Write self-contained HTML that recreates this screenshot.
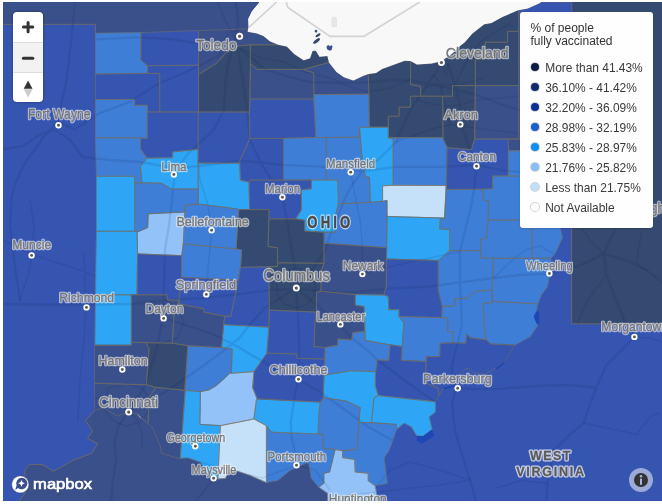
<!DOCTYPE html>
<html><head><meta charset="utf-8"><title>Ohio vaccination map</title>
<style>
html,body{margin:0;padding:0;background:#fff;}
body{width:662px;height:504px;overflow:hidden;position:relative;font-family:"Liberation Sans",sans-serif;}
#map{position:absolute;left:3px;top:2px;width:659px;height:499px;overflow:hidden;background:#3655b0;}
.ctrl{position:absolute;left:10px;top:10px;width:30px;height:90px;background:#fff;border-radius:4px;box-shadow:0 0 0 1.5px rgba(0,0,0,0.12);overflow:hidden;}
.ctrl div{position:absolute;left:0;width:30px;height:30px;}
.ctrl .b1{top:0;}
.ctrl .b2{top:30px;background:#f2f2f2;border-top:1px solid #ddd;box-sizing:border-box;}
.ctrl .b3{top:60px;border-top:1px solid #ddd;box-sizing:border-box;}
.legend{will-change:transform;opacity:0.999;position:absolute;left:517px;top:9.8px;width:132.8px;height:216.2px;background:#fff;border-radius:3px;box-shadow:0 1px 2px rgba(0,0,0,0.15);color:#333;font-size:12px;}
.legend .lt{position:absolute;left:10.5px;top:9.5px;line-height:13px;font-size:12px;color:#333;white-space:nowrap;}
.legend .li{position:absolute;left:0;height:20px;width:133px;}
.legend .dot{position:absolute;left:10.5px;top:5.6px;width:8.6px;height:8.6px;border-radius:50%;box-shadow:0 0 0 1px rgba(170,170,170,0.5);}
.legend .tx{position:absolute;left:25.2px;top:4px;line-height:14px;font-size:11.95px;white-space:nowrap;color:#3a3a3a;}
.info{position:absolute;left:626px;top:465.5px;width:24px;height:24px;border-radius:50%;background:rgba(255,255,255,0.5);}
.logo{position:absolute;left:8px;top:472px;}
</style></head><body>
<div id="map">
<svg width="659" height="499" viewBox="3 2 659 499" style="position:absolute;left:0;top:0">
<rect x="3" y="2" width="659" height="499" fill="#3655b0"/>
<polygon points="3.0,2.0 259.7,2.0 251.9,11.6 248.3,19.0 248.7,27.5 247.6,31.7 247.6,29.0 198.6,30.5 141.0,32.6 95.5,33.3 95.5,24.3 3.0,24.3" fill="#3a508a"/>
<polygon points="259.7,2.0 251.9,11.6 248.3,19.0 248.7,27.5 247.6,31.7 257.1,33.4 263.5,36.0 269.8,41.2 278.3,44.8 286.8,46.5 294.2,53.9 303.7,60.3 310.0,58.2 312.6,50.8 315.9,50.8 319.5,56.7 327.4,56.0 329.0,62.4 336.5,71.9 343.9,77.2 353.4,80.4 362.9,76.1 368.2,74.0 376.0,73.0 382.0,69.0 393.0,65.0 404.7,60.7 410.6,61.0 416.9,64.5 431.7,63.4 441.2,61.3 451.8,53.9 460.0,45.9 464.8,42.3 472.1,33.8 484.2,24.2 491.4,23.0 502.3,16.9 518.0,10.3 527.7,8.5 540.0,3.0 541.0,2.0" fill="#f8f8f8"/>
<polygon points="571.6,2.0 662.0,2.0 662.0,323.8 571.6,323.8" fill="#354a70"/>
<polygon points="19.1,501.0 24.9,493.2 24.9,470.0 29.9,464.2 43.2,464.7 53.2,471.3 66.5,464.2 73.1,460.0 80.0,457.7 92.0,453.2 97.6,443.7 87.5,438.2 92.5,430.7 85.5,420.6 94.5,410.6 102.6,407.6 117.6,416.1 128.9,411.9 137.7,414.4 147.7,423.1 152.7,428.2 160.2,445.7 161.5,453.2 179.0,458.7 180.3,458.2 187.8,457.7 200.4,462.0 205.4,470.8 210.4,475.3 217.9,478.8 225.4,478.3 227.9,472.8 235.0,470.3 250.1,475.3 266.4,482.4 277.7,480.4 290.2,470.3 306.5,462.8 308.8,463.2 311.3,478.3 318.8,487.1 327.6,493.3 327.6,501.0" fill="#3a508a"/>
<g fill="none" stroke="#736d60" stroke-width="1" stroke-opacity="0.85" stroke-linejoin="round">
<polyline points="3.0,24.3 95.5,24.3 95.5,33.3"/>
<polyline points="19.1,501.0 24.9,493.2 24.9,470.0 29.9,464.2 43.2,464.7 53.2,471.3 66.5,464.2 73.1,460.0 80.0,457.7 92.0,453.2 97.6,443.7 87.5,438.2 92.5,430.7 85.5,420.6 94.5,410.6"/>
<polyline points="571.6,2.0 571.6,12.0"/>
<polyline points="571.6,227.0 571.6,323.8 662.0,323.8"/>
</g>
<polygon points="95.5,33.3 141.0,32.6 141.0,60.0 147.5,65.7 147.5,73.3 95.5,74.0" fill="#3f7ed6" stroke="#3f7ed6" stroke-width="0.5"/>
<polygon points="141.0,32.6 198.6,30.5 198.6,65.2 147.5,65.7 141.0,60.0" fill="#3655b0" stroke="#3655b0" stroke-width="0.5"/>
<polygon points="198.6,30.5 247.6,29.0 247.6,31.7 257.1,33.4 263.5,36.0 269.8,41.2 278.3,44.8 250.4,44.8 238.7,45.9 226.0,52.7 217.4,62.7 198.6,74.5" fill="#3a508a" stroke="#3a508a" stroke-width="0.5"/>
<polygon points="250.4,44.8 278.3,44.8 286.8,46.5 294.2,53.9 303.7,60.3 310.0,58.2 312.6,50.8 315.9,50.8 319.5,56.7 327.4,56.0 329.0,62.4 303.7,69.4 257.1,69.4 250.4,63.4" fill="#354a70" stroke="#354a70" stroke-width="0.5"/>
<polygon points="198.6,74.5 217.4,62.7 226.0,52.7 238.7,45.9 250.4,44.8 250.4,63.4 249.5,112.0 198.6,112.0" fill="#354a70" stroke="#354a70" stroke-width="0.5"/>
<polygon points="147.5,65.7 198.6,65.2 198.6,112.0 159.7,112.0 159.7,73.3 147.5,73.3" fill="#3655b0" stroke="#3655b0" stroke-width="0.5"/>
<polygon points="95.5,74.0 147.5,73.3 159.7,73.3 159.7,112.0 147.4,112.0 147.4,105.3 134.6,105.3 134.6,99.5 95.5,99.5" fill="#3655b0" stroke="#3655b0" stroke-width="0.5"/>
<polygon points="95.5,99.5 134.6,99.5 134.6,105.3 147.4,105.3 147.4,112.0 147.4,138.4 140.5,138.4 140.5,137.8 95.5,137.8" fill="#3f7ed6" stroke="#3f7ed6" stroke-width="0.5"/>
<polygon points="147.4,112.0 198.2,112.0 198.2,149.4 172.6,152.0 172.6,157.8 147.0,158.2 140.5,149.0 140.5,138.4 147.4,138.4" fill="#3655b0" stroke="#3655b0" stroke-width="0.5"/>
<polygon points="95.5,137.8 140.5,137.8 140.5,149.0 147.0,158.2 140.5,166.5 142.0,182.8 134.7,183.2 134.7,176.2 96.5,176.2" fill="#3f7ed6" stroke="#3f7ed6" stroke-width="0.5"/>
<polygon points="147.0,158.2 172.6,157.8 172.6,152.0 198.2,149.4 198.2,189.0 171.4,189.0 161.3,183.2 142.0,182.8 140.5,166.5" fill="#2ea5f5" stroke="#2ea5f5" stroke-width="0.5"/>
<polygon points="198.2,112.0 249.5,112.0 249.9,138.4 239.6,161.4 239.6,163.2 198.2,163.2" fill="#3655b0" stroke="#3655b0" stroke-width="0.5"/>
<polygon points="250.4,63.4 257.1,69.4 303.7,69.4 313.8,73.0 313.8,99.0 250.0,99.0" fill="#3a508a" stroke="#3a508a" stroke-width="0.5"/>
<polygon points="303.7,69.4 329.0,62.4 336.5,71.9 343.9,77.2 353.4,80.4 362.9,76.1 368.2,74.0 369.0,94.3 313.8,94.5 313.8,73.0" fill="#3a508a" stroke="#3a508a" stroke-width="0.5"/>
<polygon points="250.0,99.0 313.8,99.0 315.9,137.5 283.5,138.4 249.9,138.4 249.5,112.0" fill="#3655b0" stroke="#3655b0" stroke-width="0.5"/>
<polygon points="313.8,94.5 369.0,94.3 369.5,127.1 359.5,127.4 359.5,137.2 315.9,137.5" fill="#3f7ed6" stroke="#3f7ed6" stroke-width="0.5"/>
<polygon points="369.0,94.3 368.2,74.0 376.0,73.0 382.0,69.0 393.0,65.0 404.7,60.7 410.6,61.0 410.6,84.6 420.7,86.3 420.7,96.2 410.4,96.2 410.4,107.2 399.1,107.2 399.1,116.2 388.3,116.2 388.3,127.3 369.5,127.1" fill="#354a70" stroke="#354a70" stroke-width="0.5"/>
<polygon points="410.6,61.0 416.9,64.5 431.7,63.4 441.2,61.3 451.8,53.9 460.0,45.9 464.8,42.3 472.1,33.8 484.2,24.2 491.4,23.0 502.3,16.9 518.0,10.3 518.8,10.2 518.8,31.3 507.5,31.3 507.5,42.2 485.2,42.2 485.2,59.0 475.3,59.0 475.3,85.6 452.5,85.6 452.5,96.2 420.7,96.2 420.7,86.3 410.6,84.6" fill="#354a70" stroke="#354a70" stroke-width="0.5"/>
<polygon points="485.2,42.2 507.5,42.2 507.5,31.3 518.8,31.3 518.8,85.6 475.3,85.6 475.3,59.0 485.2,59.0" fill="#354a70" stroke="#354a70" stroke-width="0.5"/>
<polygon points="518.8,10.2 527.7,8.5 540.0,3.0 541.0,2.0 571.8,2.0 571.8,62.2 518.8,62.2" fill="#3655b0" stroke="#3655b0" stroke-width="0.5"/>
<polygon points="518.8,62.2 571.8,62.2 571.8,139.4 518.8,139.4" fill="#3655b0" stroke="#3655b0" stroke-width="0.5"/>
<polygon points="388.3,127.3 388.3,116.2 399.1,116.2 399.1,107.2 410.4,107.2 410.4,96.2 442.7,96.2 443.0,137.7 388.3,137.7" fill="#354a70" stroke="#354a70" stroke-width="0.5"/>
<polygon points="442.7,96.2 452.5,96.2 452.5,85.6 475.3,85.6 474.7,139.0 471.4,149.7 447.6,147.7 443.0,139.0" fill="#354a70" stroke="#354a70" stroke-width="0.5"/>
<polygon points="475.3,85.6 518.8,85.6 518.8,138.5 474.7,139.0" fill="#3a508a" stroke="#3a508a" stroke-width="0.5"/>
<polygon points="508.3,139.4 571.5,139.4 571.5,150.7 508.3,150.7" fill="#3a508a" stroke="#3a508a" stroke-width="0.5"/>
<polygon points="359.5,127.4 388.3,127.3 388.3,137.7 393.3,139.0 393.3,185.3 382.6,185.8 382.6,201.3 370.3,202.3 369.5,177.3 365.3,176.5 361.5,152.7" fill="#2ea5f5" stroke="#2ea5f5" stroke-width="0.5"/>
<polygon points="326.4,137.5 359.5,137.2 359.5,127.4 361.5,152.7 365.3,176.5 369.5,177.3 370.3,202.3 338.3,203.9 337.8,180.0 326.4,180.0" fill="#3f7ed6" stroke="#3f7ed6" stroke-width="0.5"/>
<polygon points="283.5,138.4 315.9,137.5 326.4,137.5 326.4,180.0 311.5,180.0 283.5,180.2" fill="#3f7ed6" stroke="#3f7ed6" stroke-width="0.5"/>
<polygon points="249.9,138.4 283.5,138.4 283.5,180.2 249.6,180.0 249.1,182.2 240.3,180.2 239.6,161.4" fill="#3655b0" stroke="#3655b0" stroke-width="0.5"/>
<polygon points="198.2,163.2 239.6,163.2 240.3,180.2 249.1,182.2 249.6,209.6 238.8,209.6 237.8,209.0 198.2,204.0" fill="#2ea5f5" stroke="#2ea5f5" stroke-width="0.5"/>
<polygon points="249.6,180.0 283.5,180.2 311.5,180.0 311.5,188.8 301.5,190.0 301.5,210.0 295.7,218.9 268.9,218.9 268.9,209.6 249.6,209.6 249.1,182.2" fill="#3655b0" stroke="#3655b0" stroke-width="0.5"/>
<polygon points="311.5,180.0 337.8,180.0 338.3,203.9 335.3,216.4 335.3,232.2 324.0,232.2 304.7,231.0 304.7,220.2 295.7,218.9 301.5,210.0 301.5,190.0 311.5,188.8" fill="#2ea5f5" stroke="#2ea5f5" stroke-width="0.5"/>
<polygon points="388.3,137.7 443.0,137.7 443.0,139.0 447.0,147.7 446.3,185.5 393.3,185.3 393.3,139.0" fill="#3f7ed6" stroke="#3f7ed6" stroke-width="0.5"/>
<polygon points="447.0,147.7 471.4,149.7 474.7,139.0 508.3,139.4 508.3,176.0 492.7,176.0 492.7,188.8 446.3,189.6" fill="#3655b0" stroke="#3655b0" stroke-width="0.5"/>
<polygon points="508.3,150.7 571.5,150.7 571.5,195.0 531.7,195.0 531.7,176.0 508.3,176.0" fill="#3f7ed6" stroke="#3f7ed6" stroke-width="0.5"/>
<polygon points="492.7,176.0 508.3,176.0 531.7,176.0 531.7,220.2 488.3,220.2 488.3,200.6 483.6,200.1 482.8,189.6 492.7,188.8" fill="#3f7ed6" stroke="#3f7ed6" stroke-width="0.5"/>
<polygon points="382.6,185.8 393.3,185.3 446.3,185.5 444.5,218.1 387.0,216.4 387.0,200.5 382.6,201.3" fill="#c5e1fa" stroke="#c5e1fa" stroke-width="0.5"/>
<polygon points="446.3,189.6 482.8,189.6 483.6,200.1 488.3,200.6 488.3,220.2 486.6,238.2 480.8,239.0 480.8,250.7 449.7,250.7 449.7,229.7 439.7,228.9 440.2,218.9 444.5,218.1 446.3,185.5" fill="#3f7ed6" stroke="#3f7ed6" stroke-width="0.5"/>
<polygon points="488.3,220.2 531.7,220.2 532.4,258.2 493.4,258.3 480.8,257.8 480.8,239.0 486.6,238.2" fill="#3f7ed6" stroke="#3f7ed6" stroke-width="0.5"/>
<polygon points="531.7,195.0 571.5,195.0 560.0,227.6 562.4,237.6 554.9,253.9 551.0,258.2 532.4,258.2 531.7,220.2" fill="#3f7ed6" stroke="#3f7ed6" stroke-width="0.5"/>
<polygon points="493.4,258.3 532.4,258.2 551.0,258.2 549.9,272.7 547.4,286.5 541.1,295.3 538.0,303.8 492.9,301.4 492.1,290.1" fill="#3f7ed6" stroke="#3f7ed6" stroke-width="0.5"/>
<polygon points="492.9,301.4 538.0,303.8 537.4,305.3 535.4,315.0 537.9,325.1 530.4,336.4 514.8,345.1 490.3,343.9 486.5,339.8 484.1,325.2 483.4,303.2 492.1,302.7" fill="#3f7ed6" stroke="#3f7ed6" stroke-width="0.5"/>
<polygon points="442.2,306.4 454.8,305.7 454.8,298.9 467.8,298.1 475.3,291.4 492.1,290.1 492.1,302.7 483.4,303.2 484.1,325.2 486.6,339.8 470.3,337.8 466.6,334.0 465.8,343.3 453.3,342.8 453.3,331.5 447.8,331.5 447.8,318.2 441.5,317.7" fill="#3f7ed6" stroke="#3f7ed6" stroke-width="0.5"/>
<polygon points="438.2,260.5 449.7,250.7 480.8,250.7 480.8,257.8 493.4,258.3 492.1,290.1 475.3,291.4 467.8,298.1 454.8,298.9 454.8,305.7 442.2,306.4 438.2,290.1" fill="#3f7ed6" stroke="#3f7ed6" stroke-width="0.5"/>
<polygon points="387.0,216.4 444.5,218.1 440.2,218.9 439.7,228.9 449.7,229.7 449.7,250.7 438.2,260.5 386.3,259.0 386.7,247.7" fill="#2ea5f5" stroke="#2ea5f5" stroke-width="0.5"/>
<polygon points="338.3,203.9 370.3,202.3 382.6,201.3 387.0,200.5 387.0,216.4 386.7,247.7 324.0,243.2 324.0,232.2 335.3,232.2 335.3,216.4" fill="#3f7ed6" stroke="#3f7ed6" stroke-width="0.5"/>
<polygon points="324.0,243.2 386.7,247.7 386.3,259.0 386.3,286.4 383.8,295.1 355.4,294.6 320.8,291.3 321.6,270.0 324.0,263.3" fill="#3a508a" stroke="#3a508a" stroke-width="0.5"/>
<polygon points="386.3,259.0 438.2,260.5 438.2,290.1 442.2,306.4 441.5,317.7 398.9,316.5 398.9,309.7 388.8,309.7 388.1,296.4 383.8,295.1 386.3,286.4" fill="#3655b0" stroke="#3655b0" stroke-width="0.5"/>
<polygon points="268.9,218.9 295.7,218.9 304.7,220.2 304.7,231.0 324.0,232.2 324.0,243.2 324.0,263.3 277.6,262.8 277.6,247.7 268.1,246.5" fill="#354a70" stroke="#354a70" stroke-width="0.5"/>
<polygon points="238.8,209.6 268.9,209.6 268.9,218.9 268.1,246.5 277.6,247.7 277.6,266.5 240.5,267.3 241.7,250.2 236.0,248.9" fill="#354a70" stroke="#354a70" stroke-width="0.5"/>
<polygon points="185.2,205.3 198.2,204.0 237.8,209.0 238.8,209.6 236.0,248.9 183.3,243.9 184.8,212.0" fill="#3f7ed6" stroke="#3f7ed6" stroke-width="0.5"/>
<polygon points="148.2,213.8 184.8,212.0 183.3,243.9 181.8,255.7 137.6,253.9 137.1,232.1 147.7,227.6" fill="#93c2f9" stroke="#93c2f9" stroke-width="0.5"/>
<polygon points="134.7,183.2 142.0,182.8 161.3,183.2 171.4,189.0 198.2,189.0 198.2,204.0 185.2,205.3 184.8,212.0 148.2,213.8 147.7,227.6 137.1,232.1 134.7,231.3" fill="#3f7ed6" stroke="#3f7ed6" stroke-width="0.5"/>
<polygon points="96.5,176.2 134.7,176.2 134.7,231.3 96.5,231.3" fill="#2ea5f5" stroke="#2ea5f5" stroke-width="0.5"/>
<polygon points="96.5,231.3 134.7,231.3 137.1,232.1 137.6,253.9 137.1,294.8 131.4,294.8 95.5,294.8" fill="#2ea5f5" stroke="#2ea5f5" stroke-width="0.5"/>
<polygon points="95.5,294.8 131.4,294.8 131.4,345.2 95.0,345.2" fill="#2ea5f5" stroke="#2ea5f5" stroke-width="0.5"/>
<polygon points="137.6,253.9 181.8,255.7 181.5,277.2 179.0,300.3 167.2,299.8 167.2,294.8 137.1,294.8" fill="#3655b0" stroke="#3655b0" stroke-width="0.5"/>
<polygon points="183.3,243.9 236.0,248.9 241.7,250.2 240.5,266.5 238.4,280.2 181.5,277.2 181.8,255.7" fill="#3f7ed6" stroke="#3f7ed6" stroke-width="0.5"/>
<polygon points="181.5,277.2 238.4,280.2 230.8,316.4 224.7,316.1 204.4,312.2 203.9,308.8 179.0,303.8 179.0,300.3" fill="#3655b0" stroke="#3655b0" stroke-width="0.5"/>
<polygon points="240.5,267.3 268.9,266.8 269.4,310.1 268.8,327.2 223.6,324.7 224.7,316.1 230.8,316.4 238.4,280.2" fill="#3655b0" stroke="#3655b0" stroke-width="0.5"/>
<polygon points="268.9,266.8 277.6,266.5 277.6,262.8 324.0,263.3 321.6,270.0 320.8,291.3 316.5,292.1 316.5,312.1 269.4,310.1" fill="#354a70" stroke="#354a70" stroke-width="0.5"/>
<polygon points="269.4,310.1 316.5,312.1 314.8,323.9 314.0,346.5 325.3,347.7 324.8,359.0 297.2,358.3 296.5,354.0 266.7,353.2 268.8,327.2" fill="#3655b0" stroke="#3655b0" stroke-width="0.5"/>
<polygon points="316.5,292.1 320.8,291.3 355.4,294.6 355.4,305.1 364.2,306.4 365.0,331.4 352.9,332.7 351.7,340.2 337.9,339.0 337.9,345.2 325.3,347.7 314.0,346.5 314.8,323.9 316.5,312.1" fill="#3a508a" stroke="#3a508a" stroke-width="0.5"/>
<polygon points="355.4,294.6 383.8,295.1 388.1,296.4 388.8,309.7 398.9,309.7 398.9,316.5 403.9,322.7 402.1,346.5 390.1,344.8 365.0,340.3 365.0,331.4 364.2,306.4 355.4,305.1" fill="#2ea5f5" stroke="#2ea5f5" stroke-width="0.5"/>
<polygon points="398.9,316.5 441.5,317.7 447.8,318.2 447.8,331.5 453.3,331.5 453.3,342.8 440.2,343.3 439.7,356.6 426.4,356.6 425.7,361.6 401.4,360.3 402.1,346.5 403.9,322.7" fill="#3f7ed6" stroke="#3f7ed6" stroke-width="0.5"/>
<polygon points="440.2,343.3 453.3,342.8 465.8,343.3 466.6,334.0 470.3,337.8 486.6,339.8 490.3,343.9 514.8,345.1 504.6,361.3 495.5,368.1 485.0,374.2 472.9,372.7 468.3,368.1 465.3,368.9 458.5,376.4 454.0,384.7 443.4,387.8 439.6,395.3 438.9,395.3 438.1,387.8 425.1,382.7 426.4,356.6 439.7,356.6" fill="#3655b0" stroke="#3655b0" stroke-width="0.5"/>
<polygon points="390.1,344.8 402.1,346.5 401.4,360.3 425.7,361.6 426.4,356.6 425.1,382.7 438.1,387.8 438.9,395.3 435.4,401.8 378.2,395.6 375.2,385.5 375.5,372.5 377.0,359.8 388.8,360.3" fill="#3655b0" stroke="#3655b0" stroke-width="0.5"/>
<polygon points="365.0,331.4 365.0,340.3 390.1,344.8 388.8,360.3 377.0,359.8 375.5,372.5 374.2,371.6 350.4,370.8 324.0,375.3 324.8,359.0 325.3,347.7 337.9,345.2 337.9,339.0 351.7,340.2 352.9,332.7" fill="#3f7ed6" stroke="#3f7ed6" stroke-width="0.5"/>
<polygon points="324.0,375.3 350.4,370.8 374.2,371.6 375.5,372.5 375.2,385.5 378.2,395.6 374.0,398.1 371.5,422.6 358.9,422.6 360.2,407.6 346.4,401.1 323.3,397.6 323.3,390.1" fill="#2ea5f5" stroke="#2ea5f5" stroke-width="0.5"/>
<polygon points="374.0,398.1 378.2,395.6 435.4,401.8 435.4,411.9 429.1,416.9 432.1,429.4 422.9,436.2 416.6,435.7 411.6,426.9 404.1,423.1 396.5,429.4 396.5,424.4 371.5,422.6" fill="#2ea5f5" stroke="#2ea5f5" stroke-width="0.5"/>
<polygon points="358.9,422.6 371.5,422.6 396.5,424.4 396.5,429.4 389.0,450.7 384.0,457.7 387.3,483.3 375.2,485.8 368.2,480.8 368.2,473.3 355.2,472.0 354.7,459.5 342.6,457.7 342.6,450.7 357.2,449.5" fill="#3f7ed6" stroke="#3f7ed6" stroke-width="0.5"/>
<polygon points="320.3,402.1 323.3,397.6 346.4,401.1 360.2,407.6 358.9,422.6 357.2,449.5 342.6,450.7 335.1,449.5 323.1,448.2 323.8,434.4 318.0,433.7 319.0,412.7" fill="#3f7ed6" stroke="#3f7ed6" stroke-width="0.5"/>
<polygon points="335.1,449.5 342.6,450.7 342.6,457.7 354.7,459.5 355.2,472.0 368.2,473.3 368.2,480.8 375.2,485.8 377.7,501.0 327.6,501.0 327.6,493.3 318.8,487.1 323.8,483.3 323.8,473.3 329.6,472.0" fill="#93c2f9" stroke="#93c2f9" stroke-width="0.5"/>
<polygon points="266.4,425.7 271.4,432.2 317.8,434.0 318.0,433.7 323.8,434.4 323.1,448.2 335.1,449.5 329.6,472.0 323.8,473.3 323.8,483.3 318.8,487.1 311.3,478.3 308.8,463.2 306.5,462.8 290.2,470.3 277.7,480.4 266.4,482.4" fill="#3f7ed6" stroke="#3f7ed6" stroke-width="0.5"/>
<polygon points="257.1,398.9 320.3,402.1 319.0,412.7 318.0,433.7 317.8,434.0 271.4,432.2 266.4,425.7 253.9,418.9 256.4,400.1" fill="#2ea5f5" stroke="#2ea5f5" stroke-width="0.5"/>
<polygon points="266.7,353.2 296.5,354.0 297.2,358.3 324.8,359.0 324.0,375.3 323.3,390.1 323.3,397.6 320.3,402.1 257.1,398.9 252.6,387.6 253.9,371.6" fill="#3655b0" stroke="#3655b0" stroke-width="0.5"/>
<polygon points="223.6,324.7 268.8,327.2 266.7,353.2 253.9,371.6 231.3,373.3 232.2,349.0 221.5,347.6" fill="#2ea5f5" stroke="#2ea5f5" stroke-width="0.5"/>
<polygon points="231.3,373.3 253.9,371.6 252.6,387.6 257.1,398.9 256.4,400.1 253.9,418.9 246.0,420.6 220.4,425.6 199.9,424.4 200.4,391.6 209.1,389.8 216.7,385.3 230.5,372.7" fill="#93c2f9" stroke="#93c2f9" stroke-width="0.5"/>
<polygon points="187.8,345.7 221.5,347.6 232.2,349.0 231.3,373.3 230.5,372.7 216.7,385.3 209.1,389.8 200.4,391.6 184.8,390.3" fill="#3f7ed6" stroke="#3f7ed6" stroke-width="0.5"/>
<polygon points="179.0,300.3 179.0,303.8 203.9,308.8 204.4,312.2 224.7,316.1 223.6,324.7 221.5,347.6 187.8,345.7 172.3,343.2 174.0,315.0" fill="#3a508a" stroke="#3a508a" stroke-width="0.5"/>
<polygon points="131.4,294.8 167.2,294.8 167.2,299.8 179.0,300.3 174.0,315.0 172.3,343.2 146.4,342.7 131.4,342.2" fill="#3a508a" stroke="#3a508a" stroke-width="0.5"/>
<polygon points="94.5,345.2 131.4,345.2 131.4,342.2 146.4,342.7 149.0,348.9 146.4,384.8 94.5,383.3" fill="#3a508a" stroke="#3a508a" stroke-width="0.5"/>
<polygon points="146.4,342.7 172.3,343.2 187.8,345.7 184.8,390.3 155.2,387.3 146.4,384.8 149.0,348.9" fill="#354a70" stroke="#354a70" stroke-width="0.5"/>
<polygon points="94.5,383.3 146.4,384.8 155.2,387.3 155.2,389.0 149.0,396.8 148.2,421.9 147.7,423.1 137.7,414.4 128.9,411.9 117.6,416.1 102.6,407.6 94.5,410.6" fill="#3a508a" stroke="#3a508a" stroke-width="0.5"/>
<polygon points="155.2,387.3 184.8,390.3 185.3,390.5 180.3,458.2 179.0,458.7 161.5,453.2 160.2,445.7 152.7,428.2 147.7,423.1 148.2,421.9 149.0,396.8 155.2,389.0" fill="#3a508a" stroke="#3a508a" stroke-width="0.5"/>
<polygon points="185.3,390.5 200.4,391.6 199.9,424.4 220.4,425.6 217.9,478.3 210.4,475.3 205.4,470.8 200.4,462.0 187.8,457.7 180.3,458.2" fill="#2ea5f5" stroke="#2ea5f5" stroke-width="0.5"/>
<polygon points="220.4,425.6 246.0,420.6 253.9,418.9 266.4,425.7 266.4,482.4 250.1,475.3 235.0,470.3 227.9,472.8 225.4,478.3 217.9,478.8" fill="#c5e1fa" stroke="#c5e1fa" stroke-width="0.5"/>
<g fill="none" stroke="#0b1b4e" stroke-linejoin="round" stroke-linecap="round">
<path d="M72.7 25.5 L70.0 50.0 L66.8 78.6 L61.0 105.0 L58.9 117.8 L52.0 128.0 L43.2 137.5 L33.0 152.0 L23.6 165.0 L16.0 182.0 L11.8 196.0 L10.0 225.0 L14.0 260.0 L20.0 300.0 M58.9 122.0 L74.6 129.6 L98.2 113.9 L129.6 102.0 L157.0 84.4 L184.6 72.7 L205.0 63.0 L220.0 55.0 L235.7 39.3 M3.9 149.0 L23.0 146.0 L41.2 133.5 L55.0 130.0 L70.0 140.0 L82.5 157.0 L110.0 160.0 L140.0 162.0 L174.0 168.0 L200.0 166.0 L240.0 160.6 L282.3 164.8 L324.6 166.9 L362.7 171.1 L396.5 166.9 L443.0 166.9 L476.9 164.8 L500.0 170.0 L519.0 172.0 M236.0 3.0 L238.0 20.0 L235.7 39.3 L229.0 60.0 L225.8 78.6 L223.9 110.0 L214.0 129.6 L200.0 143.0 L188.5 153.0 L174.8 172.8 L172.0 200.0 L169.0 225.0 L165.0 249.0 L164.0 285.0 L163.0 317.6 L157.0 347.0 L150.0 370.0 L145.0 386.0 L132.0 405.0 L128.9 411.9 L119.0 425.0 L114.5 440.0 L116.0 460.0 L113.0 480.0 L111.0 501.0 M96.2 39.3 L137.5 37.3 L170.0 39.0 L196.4 43.2 L225.0 50.0 L240.0 48.5 L265.4 69.6 L290.0 77.0 L311.9 82.3 L340.0 83.0 L366.9 82.3 L390.0 80.0 L409.2 80.2 L443.0 86.5 L476.9 95.0 L500.0 104.0 L519.0 110.0 M442.2 62.0 L434.0 75.0 L426.1 86.5 L417.0 100.0 L409.2 111.9 L402.0 128.0 L396.5 141.5 L379.6 158.4 L362.7 171.1 L352.0 185.0 L345.7 196.5 L337.3 217.7 L330.0 236.0 L324.6 251.5 L312.0 270.0 L296.0 288.0 L280.0 298.0 L265.4 307.7 L252.0 322.0 L240.0 337.3 L222.0 352.0 L200.0 368.0 L180.0 382.0 L160.0 395.0 L140.0 406.0 L128.9 411.9 M3.0 304.0 L40.0 304.5 L86.4 304.7 L133.5 304.0 L165.0 300.0 L204.0 298.0 L240.0 294.0 L270.0 290.0 L295.0 288.6 L320.0 291.0 L345.7 292.9 L388.0 288.6 L430.3 286.5 L460.0 282.3 L493.8 278.0 L520.0 275.0 L549.4 273.5 L572.0 267.7 L583.8 263.9 L603.8 253.9 L626.4 260.2 L646.5 270.2 L662.0 282.7 M448.0 64.0 L455.0 85.0 L460.0 105.0 L461.0 124.0 L468.0 145.0 L476.9 164.8 L474.0 190.0 L470.5 209.2 L465.0 230.0 L460.0 251.5 L460.0 282.3 L461.0 305.0 L462.0 324.6 L457.0 346.0 L451.5 367.0 L455.7 388.0 L452.0 405.0 L455.0 430.0 L462.0 455.0 L470.0 480.0 L476.0 501.0 M616.4 227.6 L609.0 242.0 L603.8 253.9 L606.3 275.2 L616.4 300.3 L626.4 325.4 L634.4 336.9 L621.4 350.2 L606.3 365.2 L596.3 387.8 L588.8 407.8 L583.8 423.1 L568.7 435.7 L553.7 450.7 L548.0 478.0 L546.2 503.0 M455.7 388.0 L475.0 389.0 L496.0 389.3 L520.0 387.0 L546.2 385.5 L570.0 385.0 L596.3 388.0 M238.0 52.0 L243.0 80.0 L247.0 110.0 L250.0 140.0 L262.0 165.0 L275.0 185.0 L282.4 197.3 L287.0 220.0 L291.0 245.0 L295.0 270.0 L296.0 288.0 L298.0 315.0 L299.2 345.7 L298.4 379.6 L294.0 400.0 L290.8 421.9 L292.0 440.0 L295.0 451.5 L296.5 465.3 M296.0 288.0 L318.0 306.0 L339.4 324.6 L352.0 338.0 L366.9 350.0 L380.0 362.0 L392.3 371.1 L409.2 383.8 L425.0 395.0 L436.0 402.0 M163.0 317.6 L185.0 325.0 L210.0 333.0 L235.0 345.0 L260.0 360.0 L280.0 372.0 L298.4 379.6 L320.0 392.0 L345.0 410.0 L370.0 428.0 L392.0 440.0" stroke-width="2.3" stroke-opacity="0.11"/>
<path d="M296.0 268.0 L308.0 272.0 L315.0 282.0 L315.0 294.0 L308.0 304.0 L296.0 308.0 L284.0 304.0 L277.0 294.0 L277.0 282.0 L284.0 272.0 L296.0 268.0 M426.1 86.5 L440.0 84.0 L455.0 85.0 L470.0 82.0 L485.0 78.0 M455.0 85.0 L462.0 70.0 L470.0 55.0 L480.0 42.0 L495.0 32.0 L510.0 24.0 M417.0 100.0 L430.0 104.0 L445.0 106.0 L460.0 105.0 L476.0 100.0 L500.0 98.0 L519.0 96.0 M442.2 62.0 L446.0 75.0 L448.0 64.0 M434.0 75.0 L440.0 84.0 L445.0 106.0 L450.0 125.0 L461.0 124.0 M396.5 141.5 L415.0 135.0 L435.0 128.0 L450.0 125.0 L470.0 127.0 L490.0 130.0 L519.0 133.0 M220.0 55.0 L222.0 42.0 L230.0 32.0 L240.0 30.0 M94.0 398.0 L108.0 400.0 L120.0 406.0 L128.9 411.9 M108.0 388.0 L125.0 384.0 L142.0 388.0 L150.0 398.0 L148.0 412.0 L140.0 422.0 L126.0 426.0 L112.0 420.0 L104.0 408.0 L108.0 388.0 M206.0 294.0 L208.0 270.0 L210.0 248.0 L211.6 230.3 L208.0 205.0 L200.0 180.0 L198.0 160.0 M84.0 253.0 L85.0 280.0 L86.0 307.0 L84.0 340.0 L80.0 380.0 L78.0 420.0 M20.0 300.0 L28.0 275.0 L32.5 254.5 L34.0 225.0 L30.0 200.0 M3.0 240.0 L18.0 248.0 L32.5 254.5 L55.0 262.0 L80.0 270.0 L96.0 276.0 M165.0 300.0 L178.0 308.0 L184.0 322.0 L178.0 338.0 L163.0 343.0 M583.8 423.1 L608.8 428.2 L636.4 434.4 L651.5 415.6 L660.0 413.0 M496.0 488.3 L521.0 480.8 L546.2 483.3 M470.0 480.0 L440.0 470.0 L410.0 462.0 L390.0 470.0 L375.0 488.0 M634.4 336.9 L648.0 338.0 L662.0 342.0 M641.4 232.6 L636.4 262.7 L646.5 270.2 M603.8 253.9 L590.0 240.0 L580.0 225.0 L574.0 205.0 M606.3 275.2 L595.0 290.0 L585.0 305.0 L578.0 323.0 M128.9 411.9 L138.0 420.0 L141.5 432.0 L142.5 448.0 M213.6 478.3 L205.0 490.0 L196.0 501.0 M235.7 39.3 L225.0 20.0 L218.0 3.0 M72.7 25.5 L74.0 12.0 L75.0 3.0 M240.0 48.5 L262.0 58.0 L285.0 62.0 L305.0 72.0 L330.0 78.0 L353.0 88.0 L368.0 92.0 L390.0 88.0 L409.2 80.2 M350.7 172.3 L355.0 195.0 L360.0 220.0 L362.4 245.0 L362.4 274.1 M362.4 274.1 L385.0 268.0 L410.0 262.0 L430.0 258.0 L460.0 251.5 M493.8 278.0 L510.0 262.0 L525.0 250.0 L540.0 246.0 L554.0 254.0 M200.0 462.0 L230.0 470.0 L262.0 478.0 L296.5 465.3 L315.0 470.0 L330.0 490.0 M327.0 498.0 L355.0 494.0 L380.0 492.0 L410.0 488.0 L440.0 485.0 L470.0 480.0" stroke-width="1.6" stroke-opacity="0.09"/>
</g>
<g fill="none" stroke="#736d60" stroke-width="0.85" stroke-opacity="0.7" stroke-linejoin="round">
<polygon points="95.5,33.3 141.0,32.6 141.0,60.0 147.5,65.7 147.5,73.3 95.5,74.0"/>
<polygon points="141.0,32.6 198.6,30.5 198.6,65.2 147.5,65.7 141.0,60.0"/>
<polygon points="198.6,30.5 247.6,29.0 247.6,31.7 257.1,33.4 263.5,36.0 269.8,41.2 278.3,44.8 250.4,44.8 238.7,45.9 226.0,52.7 217.4,62.7 198.6,74.5"/>
<polygon points="250.4,44.8 278.3,44.8 286.8,46.5 294.2,53.9 303.7,60.3 310.0,58.2 312.6,50.8 315.9,50.8 319.5,56.7 327.4,56.0 329.0,62.4 303.7,69.4 257.1,69.4 250.4,63.4"/>
<polygon points="198.6,74.5 217.4,62.7 226.0,52.7 238.7,45.9 250.4,44.8 250.4,63.4 249.5,112.0 198.6,112.0"/>
<polygon points="147.5,65.7 198.6,65.2 198.6,112.0 159.7,112.0 159.7,73.3 147.5,73.3"/>
<polygon points="95.5,74.0 147.5,73.3 159.7,73.3 159.7,112.0 147.4,112.0 147.4,105.3 134.6,105.3 134.6,99.5 95.5,99.5"/>
<polygon points="95.5,99.5 134.6,99.5 134.6,105.3 147.4,105.3 147.4,112.0 147.4,138.4 140.5,138.4 140.5,137.8 95.5,137.8"/>
<polygon points="147.4,112.0 198.2,112.0 198.2,149.4 172.6,152.0 172.6,157.8 147.0,158.2 140.5,149.0 140.5,138.4 147.4,138.4"/>
<polygon points="95.5,137.8 140.5,137.8 140.5,149.0 147.0,158.2 140.5,166.5 142.0,182.8 134.7,183.2 134.7,176.2 96.5,176.2"/>
<polygon points="147.0,158.2 172.6,157.8 172.6,152.0 198.2,149.4 198.2,189.0 171.4,189.0 161.3,183.2 142.0,182.8 140.5,166.5"/>
<polygon points="198.2,112.0 249.5,112.0 249.9,138.4 239.6,161.4 239.6,163.2 198.2,163.2"/>
<polygon points="250.4,63.4 257.1,69.4 303.7,69.4 313.8,73.0 313.8,99.0 250.0,99.0"/>
<polygon points="303.7,69.4 329.0,62.4 336.5,71.9 343.9,77.2 353.4,80.4 362.9,76.1 368.2,74.0 369.0,94.3 313.8,94.5 313.8,73.0"/>
<polygon points="250.0,99.0 313.8,99.0 315.9,137.5 283.5,138.4 249.9,138.4 249.5,112.0"/>
<polygon points="313.8,94.5 369.0,94.3 369.5,127.1 359.5,127.4 359.5,137.2 315.9,137.5"/>
<polygon points="369.0,94.3 368.2,74.0 376.0,73.0 382.0,69.0 393.0,65.0 404.7,60.7 410.6,61.0 410.6,84.6 420.7,86.3 420.7,96.2 410.4,96.2 410.4,107.2 399.1,107.2 399.1,116.2 388.3,116.2 388.3,127.3 369.5,127.1"/>
<polygon points="410.6,61.0 416.9,64.5 431.7,63.4 441.2,61.3 451.8,53.9 460.0,45.9 464.8,42.3 472.1,33.8 484.2,24.2 491.4,23.0 502.3,16.9 518.0,10.3 518.8,10.2 518.8,31.3 507.5,31.3 507.5,42.2 485.2,42.2 485.2,59.0 475.3,59.0 475.3,85.6 452.5,85.6 452.5,96.2 420.7,96.2 420.7,86.3 410.6,84.6"/>
<polygon points="485.2,42.2 507.5,42.2 507.5,31.3 518.8,31.3 518.8,85.6 475.3,85.6 475.3,59.0 485.2,59.0"/>
<polygon points="518.8,10.2 527.7,8.5 540.0,3.0 541.0,2.0 571.8,2.0 571.8,62.2 518.8,62.2"/>
<polygon points="518.8,62.2 571.8,62.2 571.8,139.4 518.8,139.4"/>
<polygon points="388.3,127.3 388.3,116.2 399.1,116.2 399.1,107.2 410.4,107.2 410.4,96.2 442.7,96.2 443.0,137.7 388.3,137.7"/>
<polygon points="442.7,96.2 452.5,96.2 452.5,85.6 475.3,85.6 474.7,139.0 471.4,149.7 447.6,147.7 443.0,139.0"/>
<polygon points="475.3,85.6 518.8,85.6 518.8,138.5 474.7,139.0"/>
<polygon points="508.3,139.4 571.5,139.4 571.5,150.7 508.3,150.7"/>
<polygon points="359.5,127.4 388.3,127.3 388.3,137.7 393.3,139.0 393.3,185.3 382.6,185.8 382.6,201.3 370.3,202.3 369.5,177.3 365.3,176.5 361.5,152.7"/>
<polygon points="326.4,137.5 359.5,137.2 359.5,127.4 361.5,152.7 365.3,176.5 369.5,177.3 370.3,202.3 338.3,203.9 337.8,180.0 326.4,180.0"/>
<polygon points="283.5,138.4 315.9,137.5 326.4,137.5 326.4,180.0 311.5,180.0 283.5,180.2"/>
<polygon points="249.9,138.4 283.5,138.4 283.5,180.2 249.6,180.0 249.1,182.2 240.3,180.2 239.6,161.4"/>
<polygon points="198.2,163.2 239.6,163.2 240.3,180.2 249.1,182.2 249.6,209.6 238.8,209.6 237.8,209.0 198.2,204.0"/>
<polygon points="249.6,180.0 283.5,180.2 311.5,180.0 311.5,188.8 301.5,190.0 301.5,210.0 295.7,218.9 268.9,218.9 268.9,209.6 249.6,209.6 249.1,182.2"/>
<polygon points="311.5,180.0 337.8,180.0 338.3,203.9 335.3,216.4 335.3,232.2 324.0,232.2 304.7,231.0 304.7,220.2 295.7,218.9 301.5,210.0 301.5,190.0 311.5,188.8"/>
<polygon points="388.3,137.7 443.0,137.7 443.0,139.0 447.0,147.7 446.3,185.5 393.3,185.3 393.3,139.0"/>
<polygon points="447.0,147.7 471.4,149.7 474.7,139.0 508.3,139.4 508.3,176.0 492.7,176.0 492.7,188.8 446.3,189.6"/>
<polygon points="508.3,150.7 571.5,150.7 571.5,195.0 531.7,195.0 531.7,176.0 508.3,176.0"/>
<polygon points="492.7,176.0 508.3,176.0 531.7,176.0 531.7,220.2 488.3,220.2 488.3,200.6 483.6,200.1 482.8,189.6 492.7,188.8"/>
<polygon points="382.6,185.8 393.3,185.3 446.3,185.5 444.5,218.1 387.0,216.4 387.0,200.5 382.6,201.3"/>
<polygon points="446.3,189.6 482.8,189.6 483.6,200.1 488.3,200.6 488.3,220.2 486.6,238.2 480.8,239.0 480.8,250.7 449.7,250.7 449.7,229.7 439.7,228.9 440.2,218.9 444.5,218.1 446.3,185.5"/>
<polygon points="488.3,220.2 531.7,220.2 532.4,258.2 493.4,258.3 480.8,257.8 480.8,239.0 486.6,238.2"/>
<polygon points="531.7,195.0 571.5,195.0 560.0,227.6 562.4,237.6 554.9,253.9 551.0,258.2 532.4,258.2 531.7,220.2"/>
<polygon points="493.4,258.3 532.4,258.2 551.0,258.2 549.9,272.7 547.4,286.5 541.1,295.3 538.0,303.8 492.9,301.4 492.1,290.1"/>
<polygon points="492.9,301.4 538.0,303.8 537.4,305.3 535.4,315.0 537.9,325.1 530.4,336.4 514.8,345.1 490.3,343.9 486.5,339.8 484.1,325.2 483.4,303.2 492.1,302.7"/>
<polygon points="442.2,306.4 454.8,305.7 454.8,298.9 467.8,298.1 475.3,291.4 492.1,290.1 492.1,302.7 483.4,303.2 484.1,325.2 486.6,339.8 470.3,337.8 466.6,334.0 465.8,343.3 453.3,342.8 453.3,331.5 447.8,331.5 447.8,318.2 441.5,317.7"/>
<polygon points="438.2,260.5 449.7,250.7 480.8,250.7 480.8,257.8 493.4,258.3 492.1,290.1 475.3,291.4 467.8,298.1 454.8,298.9 454.8,305.7 442.2,306.4 438.2,290.1"/>
<polygon points="387.0,216.4 444.5,218.1 440.2,218.9 439.7,228.9 449.7,229.7 449.7,250.7 438.2,260.5 386.3,259.0 386.7,247.7"/>
<polygon points="338.3,203.9 370.3,202.3 382.6,201.3 387.0,200.5 387.0,216.4 386.7,247.7 324.0,243.2 324.0,232.2 335.3,232.2 335.3,216.4"/>
<polygon points="324.0,243.2 386.7,247.7 386.3,259.0 386.3,286.4 383.8,295.1 355.4,294.6 320.8,291.3 321.6,270.0 324.0,263.3"/>
<polygon points="386.3,259.0 438.2,260.5 438.2,290.1 442.2,306.4 441.5,317.7 398.9,316.5 398.9,309.7 388.8,309.7 388.1,296.4 383.8,295.1 386.3,286.4"/>
<polygon points="268.9,218.9 295.7,218.9 304.7,220.2 304.7,231.0 324.0,232.2 324.0,243.2 324.0,263.3 277.6,262.8 277.6,247.7 268.1,246.5"/>
<polygon points="238.8,209.6 268.9,209.6 268.9,218.9 268.1,246.5 277.6,247.7 277.6,266.5 240.5,267.3 241.7,250.2 236.0,248.9"/>
<polygon points="185.2,205.3 198.2,204.0 237.8,209.0 238.8,209.6 236.0,248.9 183.3,243.9 184.8,212.0"/>
<polygon points="148.2,213.8 184.8,212.0 183.3,243.9 181.8,255.7 137.6,253.9 137.1,232.1 147.7,227.6"/>
<polygon points="134.7,183.2 142.0,182.8 161.3,183.2 171.4,189.0 198.2,189.0 198.2,204.0 185.2,205.3 184.8,212.0 148.2,213.8 147.7,227.6 137.1,232.1 134.7,231.3"/>
<polygon points="96.5,176.2 134.7,176.2 134.7,231.3 96.5,231.3"/>
<polygon points="96.5,231.3 134.7,231.3 137.1,232.1 137.6,253.9 137.1,294.8 131.4,294.8 95.5,294.8"/>
<polygon points="95.5,294.8 131.4,294.8 131.4,345.2 95.0,345.2"/>
<polygon points="137.6,253.9 181.8,255.7 181.5,277.2 179.0,300.3 167.2,299.8 167.2,294.8 137.1,294.8"/>
<polygon points="183.3,243.9 236.0,248.9 241.7,250.2 240.5,266.5 238.4,280.2 181.5,277.2 181.8,255.7"/>
<polygon points="181.5,277.2 238.4,280.2 230.8,316.4 224.7,316.1 204.4,312.2 203.9,308.8 179.0,303.8 179.0,300.3"/>
<polygon points="240.5,267.3 268.9,266.8 269.4,310.1 268.8,327.2 223.6,324.7 224.7,316.1 230.8,316.4 238.4,280.2"/>
<polygon points="268.9,266.8 277.6,266.5 277.6,262.8 324.0,263.3 321.6,270.0 320.8,291.3 316.5,292.1 316.5,312.1 269.4,310.1"/>
<polygon points="269.4,310.1 316.5,312.1 314.8,323.9 314.0,346.5 325.3,347.7 324.8,359.0 297.2,358.3 296.5,354.0 266.7,353.2 268.8,327.2"/>
<polygon points="316.5,292.1 320.8,291.3 355.4,294.6 355.4,305.1 364.2,306.4 365.0,331.4 352.9,332.7 351.7,340.2 337.9,339.0 337.9,345.2 325.3,347.7 314.0,346.5 314.8,323.9 316.5,312.1"/>
<polygon points="355.4,294.6 383.8,295.1 388.1,296.4 388.8,309.7 398.9,309.7 398.9,316.5 403.9,322.7 402.1,346.5 390.1,344.8 365.0,340.3 365.0,331.4 364.2,306.4 355.4,305.1"/>
<polygon points="398.9,316.5 441.5,317.7 447.8,318.2 447.8,331.5 453.3,331.5 453.3,342.8 440.2,343.3 439.7,356.6 426.4,356.6 425.7,361.6 401.4,360.3 402.1,346.5 403.9,322.7"/>
<polygon points="440.2,343.3 453.3,342.8 465.8,343.3 466.6,334.0 470.3,337.8 486.6,339.8 490.3,343.9 514.8,345.1 504.6,361.3 495.5,368.1 485.0,374.2 472.9,372.7 468.3,368.1 465.3,368.9 458.5,376.4 454.0,384.7 443.4,387.8 439.6,395.3 438.9,395.3 438.1,387.8 425.1,382.7 426.4,356.6 439.7,356.6"/>
<polygon points="390.1,344.8 402.1,346.5 401.4,360.3 425.7,361.6 426.4,356.6 425.1,382.7 438.1,387.8 438.9,395.3 435.4,401.8 378.2,395.6 375.2,385.5 375.5,372.5 377.0,359.8 388.8,360.3"/>
<polygon points="365.0,331.4 365.0,340.3 390.1,344.8 388.8,360.3 377.0,359.8 375.5,372.5 374.2,371.6 350.4,370.8 324.0,375.3 324.8,359.0 325.3,347.7 337.9,345.2 337.9,339.0 351.7,340.2 352.9,332.7"/>
<polygon points="324.0,375.3 350.4,370.8 374.2,371.6 375.5,372.5 375.2,385.5 378.2,395.6 374.0,398.1 371.5,422.6 358.9,422.6 360.2,407.6 346.4,401.1 323.3,397.6 323.3,390.1"/>
<polygon points="374.0,398.1 378.2,395.6 435.4,401.8 435.4,411.9 429.1,416.9 432.1,429.4 422.9,436.2 416.6,435.7 411.6,426.9 404.1,423.1 396.5,429.4 396.5,424.4 371.5,422.6"/>
<polygon points="358.9,422.6 371.5,422.6 396.5,424.4 396.5,429.4 389.0,450.7 384.0,457.7 387.3,483.3 375.2,485.8 368.2,480.8 368.2,473.3 355.2,472.0 354.7,459.5 342.6,457.7 342.6,450.7 357.2,449.5"/>
<polygon points="320.3,402.1 323.3,397.6 346.4,401.1 360.2,407.6 358.9,422.6 357.2,449.5 342.6,450.7 335.1,449.5 323.1,448.2 323.8,434.4 318.0,433.7 319.0,412.7"/>
<polygon points="335.1,449.5 342.6,450.7 342.6,457.7 354.7,459.5 355.2,472.0 368.2,473.3 368.2,480.8 375.2,485.8 377.7,501.0 327.6,501.0 327.6,493.3 318.8,487.1 323.8,483.3 323.8,473.3 329.6,472.0"/>
<polygon points="266.4,425.7 271.4,432.2 317.8,434.0 318.0,433.7 323.8,434.4 323.1,448.2 335.1,449.5 329.6,472.0 323.8,473.3 323.8,483.3 318.8,487.1 311.3,478.3 308.8,463.2 306.5,462.8 290.2,470.3 277.7,480.4 266.4,482.4"/>
<polygon points="257.1,398.9 320.3,402.1 319.0,412.7 318.0,433.7 317.8,434.0 271.4,432.2 266.4,425.7 253.9,418.9 256.4,400.1"/>
<polygon points="266.7,353.2 296.5,354.0 297.2,358.3 324.8,359.0 324.0,375.3 323.3,390.1 323.3,397.6 320.3,402.1 257.1,398.9 252.6,387.6 253.9,371.6"/>
<polygon points="223.6,324.7 268.8,327.2 266.7,353.2 253.9,371.6 231.3,373.3 232.2,349.0 221.5,347.6"/>
<polygon points="231.3,373.3 253.9,371.6 252.6,387.6 257.1,398.9 256.4,400.1 253.9,418.9 246.0,420.6 220.4,425.6 199.9,424.4 200.4,391.6 209.1,389.8 216.7,385.3 230.5,372.7"/>
<polygon points="187.8,345.7 221.5,347.6 232.2,349.0 231.3,373.3 230.5,372.7 216.7,385.3 209.1,389.8 200.4,391.6 184.8,390.3"/>
<polygon points="179.0,300.3 179.0,303.8 203.9,308.8 204.4,312.2 224.7,316.1 223.6,324.7 221.5,347.6 187.8,345.7 172.3,343.2 174.0,315.0"/>
<polygon points="131.4,294.8 167.2,294.8 167.2,299.8 179.0,300.3 174.0,315.0 172.3,343.2 146.4,342.7 131.4,342.2"/>
<polygon points="94.5,345.2 131.4,345.2 131.4,342.2 146.4,342.7 149.0,348.9 146.4,384.8 94.5,383.3"/>
<polygon points="146.4,342.7 172.3,343.2 187.8,345.7 184.8,390.3 155.2,387.3 146.4,384.8 149.0,348.9"/>
<polygon points="94.5,383.3 146.4,384.8 155.2,387.3 155.2,389.0 149.0,396.8 148.2,421.9 147.7,423.1 137.7,414.4 128.9,411.9 117.6,416.1 102.6,407.6 94.5,410.6"/>
<polygon points="155.2,387.3 184.8,390.3 185.3,390.5 180.3,458.2 179.0,458.7 161.5,453.2 160.2,445.7 152.7,428.2 147.7,423.1 148.2,421.9 149.0,396.8 155.2,389.0"/>
<polygon points="185.3,390.5 200.4,391.6 199.9,424.4 220.4,425.6 217.9,478.3 210.4,475.3 205.4,470.8 200.4,462.0 187.8,457.7 180.3,458.2"/>
<polygon points="220.4,425.6 246.0,420.6 253.9,418.9 266.4,425.7 266.4,482.4 250.1,475.3 235.0,470.3 227.9,472.8 225.4,478.3 217.9,478.8"/>
</g>
<polygon points="259.7,2.0 251.9,11.6 248.3,19.0 248.7,27.5 247.6,31.7 257.1,33.4 263.5,36.0 269.8,41.2 278.3,44.8 286.8,46.5 294.2,53.9 303.7,60.3 310.0,58.2 312.6,50.8 315.9,50.8 319.5,56.7 327.4,56.0 329.0,62.4 336.5,71.9 343.9,77.2 353.4,80.4 362.9,76.1 368.2,74.0 376.0,73.0 382.0,69.0 393.0,65.0 404.7,60.7 410.6,61.0 416.9,64.5 431.7,63.4 441.2,61.3 451.8,53.9 460.0,45.9 464.8,42.3 472.1,33.8 484.2,24.2 491.4,23.0 502.3,16.9 518.0,10.3 527.7,8.5 540.0,3.0 541.0,2.0" fill="#f8f8f8"/>
<g fill="none" stroke="#d2d2d2" stroke-width="1.6">
<polyline points="248.7,27.5 276.6,2.0"/>
<polyline points="286.3,2.0 287.8,7.4 330.1,36.4 363.9,36.4 419.8,2.0"/>
</g>
<rect x="331.4" y="16.8" width="5.6" height="10.4" fill="#e6e6e6" rx="1.5"/>
<polygon points="316,29.4 317.6,31.1 316,32.9 314.4,31.1" fill="#354a70"/>
<ellipse cx="318" cy="35.3" rx="2.9" ry="1.25" transform="rotate(-33 318 35.3)" fill="#354a70"/>
<ellipse cx="316.6" cy="40.9" rx="4.1" ry="1.6" transform="rotate(-38 316.6 40.9)" fill="#354a70"/>
<polygon points="326.5,46.3 328.3,45 329.8,46.3 331.6,45.3 332.5,46.2 331.6,50 329.8,50.8 327,49.2" fill="#3a508a"/>
<path d="M136.8 412.8 L139.5 417.2 L146.5 422.6 L141 418.2 Z" fill="#ddd6c8"/>
<polygon points="443.4,387.6 454,384.4 454.6,386.4 444,389.6" fill="#1d47b4"/>
<polygon points="495.5,368.1 504.6,361.3 503.8,364.2 496.6,369.4" fill="#1d47b4"/>
<polygon points="416.6,435.7 422.9,436.2 432.1,429.4 434.2,436.0 422.0,443.7 417.0,441.0" fill="#1d47b4"/>
<polygon points="535.4,313.0 539.0,311.0 539.5,324.0 537.9,325.1" fill="#1d47b4"/>
<polygon points="533.6,316.6 537.4,310.0 537.4,325.4" fill="#1d47b4"/>
</svg>
<svg width="659" height="499" viewBox="3 2 659 499" style="position:absolute;left:0;top:0;will-change:transform;opacity:0.999">
<g font-family="Liberation Sans, sans-serif">
<text x="196.0" y="49.8" font-size="15.5" textLength="40.6" lengthAdjust="spacingAndGlyphs" fill="#fff" fill-opacity="0.7" stroke="#fff" stroke-width="2.6" stroke-linejoin="round" stroke-opacity="0.62">Toledo</text>
<text x="196.0" y="49.8" font-size="15.5" textLength="40.6" lengthAdjust="spacingAndGlyphs" fill="#757575" stroke="#757575" stroke-width="0.35">Toledo</text>
<circle cx="239.6" cy="36.3" r="3.5" fill="#fff"/><circle cx="239.6" cy="36.3" r="1.61" fill="#5a5a5a"/>
<text x="445.8" y="57.7" font-size="14.8" textLength="62.8" lengthAdjust="spacingAndGlyphs" fill="#fff" fill-opacity="0.7" stroke="#fff" stroke-width="2.6" stroke-linejoin="round" stroke-opacity="0.62">Cleveland</text>
<text x="445.8" y="57.7" font-size="14.8" textLength="62.8" lengthAdjust="spacingAndGlyphs" fill="#757575" stroke="#757575" stroke-width="0.35">Cleveland</text>
<circle cx="441.4" cy="62.5" r="3.5" fill="#fff"/><circle cx="441.4" cy="62.5" r="1.61" fill="#5a5a5a"/>
<text x="27.9" y="118.8" font-size="13.9" textLength="62.7" lengthAdjust="spacingAndGlyphs" fill="#fff" fill-opacity="0.7" stroke="#fff" stroke-width="2.6" stroke-linejoin="round" stroke-opacity="0.62">Fort Wayne</text>
<text x="27.9" y="118.8" font-size="13.9" textLength="62.7" lengthAdjust="spacingAndGlyphs" fill="#757575" stroke="#757575" stroke-width="0.35">Fort Wayne</text>
<circle cx="58.5" cy="125.3" r="3.2" fill="#fff"/><circle cx="58.5" cy="125.3" r="1.47" fill="#5a5a5a"/>
<text x="444.3" y="119.0" font-size="13.7" textLength="33.7" lengthAdjust="spacingAndGlyphs" fill="#fff" fill-opacity="0.7" stroke="#fff" stroke-width="2.6" stroke-linejoin="round" stroke-opacity="0.62">Akron</text>
<text x="444.3" y="119.0" font-size="13.7" textLength="33.7" lengthAdjust="spacingAndGlyphs" fill="#757575" stroke="#757575" stroke-width="0.35">Akron</text>
<circle cx="460.3" cy="124.4" r="3.2" fill="#fff"/><circle cx="460.3" cy="124.4" r="1.47" fill="#5a5a5a"/>
<text x="457.9" y="161.1" font-size="13.4" textLength="38.1" lengthAdjust="spacingAndGlyphs" fill="#fff" fill-opacity="0.7" stroke="#fff" stroke-width="2.6" stroke-linejoin="round" stroke-opacity="0.62">Canton</text>
<text x="457.9" y="161.1" font-size="13.4" textLength="38.1" lengthAdjust="spacingAndGlyphs" fill="#757575" stroke="#757575" stroke-width="0.35">Canton</text>
<circle cx="476.5" cy="166.3" r="3.2" fill="#fff"/><circle cx="476.5" cy="166.3" r="1.47" fill="#5a5a5a"/>
<text x="161.3" y="170.9" font-size="13.5" textLength="25.3" lengthAdjust="spacingAndGlyphs" fill="#fff" fill-opacity="0.7" stroke="#fff" stroke-width="2.6" stroke-linejoin="round" stroke-opacity="0.62">Lima</text>
<text x="161.3" y="170.9" font-size="13.5" textLength="25.3" lengthAdjust="spacingAndGlyphs" fill="#757575" stroke="#757575" stroke-width="0.35">Lima</text>
<circle cx="173.9" cy="174.5" r="3.2" fill="#fff"/><circle cx="173.9" cy="174.5" r="1.47" fill="#5a5a5a"/>
<text x="325.9" y="167.6" font-size="13.5" textLength="49.2" lengthAdjust="spacingAndGlyphs" fill="#fff" fill-opacity="0.7" stroke="#fff" stroke-width="2.6" stroke-linejoin="round" stroke-opacity="0.62">Mansfield</text>
<text x="325.9" y="167.6" font-size="13.5" textLength="49.2" lengthAdjust="spacingAndGlyphs" fill="#757575" stroke="#757575" stroke-width="0.35">Mansfield</text>
<circle cx="350.7" cy="172.3" r="3.2" fill="#fff"/><circle cx="350.7" cy="172.3" r="1.47" fill="#5a5a5a"/>
<text x="265.1" y="192.9" font-size="13.5" textLength="34.9" lengthAdjust="spacingAndGlyphs" fill="#fff" fill-opacity="0.7" stroke="#fff" stroke-width="2.6" stroke-linejoin="round" stroke-opacity="0.62">Marion</text>
<text x="265.1" y="192.9" font-size="13.5" textLength="34.9" lengthAdjust="spacingAndGlyphs" fill="#757575" stroke="#757575" stroke-width="0.35">Marion</text>
<circle cx="282.4" cy="197.3" r="3.2" fill="#fff"/><circle cx="282.4" cy="197.3" r="1.47" fill="#5a5a5a"/>
<text x="176.5" y="225.5" font-size="13.5" textLength="72.3" lengthAdjust="spacingAndGlyphs" fill="#fff" fill-opacity="0.7" stroke="#fff" stroke-width="2.6" stroke-linejoin="round" stroke-opacity="0.62">Bellefontaine</text>
<text x="176.5" y="225.5" font-size="13.5" textLength="72.3" lengthAdjust="spacingAndGlyphs" fill="#757575" stroke="#757575" stroke-width="0.35">Bellefontaine</text>
<circle cx="211.6" cy="230.3" r="3.2" fill="#fff"/><circle cx="211.6" cy="230.3" r="1.47" fill="#5a5a5a"/>
<text x="12.2" y="249.0" font-size="13" textLength="39.0" lengthAdjust="spacingAndGlyphs" fill="#fff" fill-opacity="0.7" stroke="#fff" stroke-width="2.6" stroke-linejoin="round" stroke-opacity="0.62">Muncie</text>
<text x="12.2" y="249.0" font-size="13" textLength="39.0" lengthAdjust="spacingAndGlyphs" fill="#757575" stroke="#757575" stroke-width="0.35">Muncie</text>
<circle cx="31.6" cy="255.4" r="3.2" fill="#fff"/><circle cx="31.6" cy="255.4" r="1.47" fill="#5a5a5a"/>
<text x="263.3" y="281.4" font-size="15.8" textLength="66.7" lengthAdjust="spacingAndGlyphs" fill="#fff" fill-opacity="0.7" stroke="#fff" stroke-width="2.6" stroke-linejoin="round" stroke-opacity="0.62">Columbus</text>
<text x="263.3" y="281.4" font-size="15.8" textLength="66.7" lengthAdjust="spacingAndGlyphs" fill="#757575" stroke="#757575" stroke-width="0.35">Columbus</text>
<circle cx="296.3" cy="288.1" r="3.5" fill="#fff"/><circle cx="296.3" cy="288.1" r="1.61" fill="#5a5a5a"/>
<text x="342.8" y="270.2" font-size="13.5" textLength="40.5" lengthAdjust="spacingAndGlyphs" fill="#fff" fill-opacity="0.7" stroke="#fff" stroke-width="2.6" stroke-linejoin="round" stroke-opacity="0.62">Newark</text>
<text x="342.8" y="270.2" font-size="13.5" textLength="40.5" lengthAdjust="spacingAndGlyphs" fill="#757575" stroke="#757575" stroke-width="0.35">Newark</text>
<circle cx="362.4" cy="274.1" r="3.2" fill="#fff"/><circle cx="362.4" cy="274.1" r="1.47" fill="#5a5a5a"/>
<text x="526.0" y="269.9" font-size="13.5" textLength="46.8" lengthAdjust="spacingAndGlyphs" fill="#fff" fill-opacity="0.7" stroke="#fff" stroke-width="2.6" stroke-linejoin="round" stroke-opacity="0.62">Wheeling</text>
<text x="526.0" y="269.9" font-size="13.5" textLength="46.8" lengthAdjust="spacingAndGlyphs" fill="#757575" stroke="#757575" stroke-width="0.35">Wheeling</text>
<circle cx="549.4" cy="273.5" r="3.2" fill="#fff"/><circle cx="549.4" cy="273.5" r="1.47" fill="#5a5a5a"/>
<text x="175.8" y="288.9" font-size="13.5" textLength="60.4" lengthAdjust="spacingAndGlyphs" fill="#fff" fill-opacity="0.7" stroke="#fff" stroke-width="2.6" stroke-linejoin="round" stroke-opacity="0.62">Springfield</text>
<text x="175.8" y="288.9" font-size="13.5" textLength="60.4" lengthAdjust="spacingAndGlyphs" fill="#757575" stroke="#757575" stroke-width="0.35">Springfield</text>
<circle cx="206.3" cy="294.4" r="3.2" fill="#fff"/><circle cx="206.3" cy="294.4" r="1.47" fill="#5a5a5a"/>
<text x="59.3" y="302.2" font-size="13.4" textLength="54.8" lengthAdjust="spacingAndGlyphs" fill="#fff" fill-opacity="0.7" stroke="#fff" stroke-width="2.6" stroke-linejoin="round" stroke-opacity="0.62">Richmond</text>
<text x="59.3" y="302.2" font-size="13.4" textLength="54.8" lengthAdjust="spacingAndGlyphs" fill="#757575" stroke="#757575" stroke-width="0.35">Richmond</text>
<circle cx="86.5" cy="307.4" r="3.2" fill="#fff"/><circle cx="86.5" cy="307.4" r="1.47" fill="#5a5a5a"/>
<text x="145.5" y="312.7" font-size="13.7" textLength="37.9" lengthAdjust="spacingAndGlyphs" fill="#fff" fill-opacity="0.7" stroke="#fff" stroke-width="2.6" stroke-linejoin="round" stroke-opacity="0.62">Dayton</text>
<text x="145.5" y="312.7" font-size="13.7" textLength="37.9" lengthAdjust="spacingAndGlyphs" fill="#757575" stroke="#757575" stroke-width="0.35">Dayton</text>
<circle cx="163.6" cy="318.4" r="3.2" fill="#fff"/><circle cx="163.6" cy="318.4" r="1.47" fill="#5a5a5a"/>
<text x="316.5" y="320.5" font-size="13.5" textLength="48.7" lengthAdjust="spacingAndGlyphs" fill="#fff" fill-opacity="0.7" stroke="#fff" stroke-width="2.6" stroke-linejoin="round" stroke-opacity="0.62">Lancaster</text>
<text x="316.5" y="320.5" font-size="13.5" textLength="48.7" lengthAdjust="spacingAndGlyphs" fill="#757575" stroke="#757575" stroke-width="0.35">Lancaster</text>
<circle cx="340.4" cy="324.4" r="3.2" fill="#fff"/><circle cx="340.4" cy="324.4" r="1.47" fill="#5a5a5a"/>
<text x="601.3" y="331.2" font-size="13.5" textLength="66.7" lengthAdjust="spacingAndGlyphs" fill="#fff" fill-opacity="0.7" stroke="#fff" stroke-width="2.6" stroke-linejoin="round" stroke-opacity="0.62">Morgantown</text>
<text x="601.3" y="331.2" font-size="13.5" textLength="66.7" lengthAdjust="spacingAndGlyphs" fill="#757575" stroke="#757575" stroke-width="0.35">Morgantown</text>
<circle cx="634.4" cy="336.9" r="3.2" fill="#fff"/><circle cx="634.4" cy="336.9" r="1.47" fill="#5a5a5a"/>
<text x="98.5" y="365.0" font-size="13.7" textLength="49.2" lengthAdjust="spacingAndGlyphs" fill="#fff" fill-opacity="0.7" stroke="#fff" stroke-width="2.6" stroke-linejoin="round" stroke-opacity="0.62">Hamilton</text>
<text x="98.5" y="365.0" font-size="13.7" textLength="49.2" lengthAdjust="spacingAndGlyphs" fill="#757575" stroke="#757575" stroke-width="0.35">Hamilton</text>
<circle cx="122.3" cy="369.5" r="3.2" fill="#fff"/><circle cx="122.3" cy="369.5" r="1.47" fill="#5a5a5a"/>
<text x="269.6" y="373.9" font-size="13.5" textLength="58.0" lengthAdjust="spacingAndGlyphs" fill="#fff" fill-opacity="0.7" stroke="#fff" stroke-width="2.6" stroke-linejoin="round" stroke-opacity="0.62">Chillicothe</text>
<text x="269.6" y="373.9" font-size="13.5" textLength="58.0" lengthAdjust="spacingAndGlyphs" fill="#757575" stroke="#757575" stroke-width="0.35">Chillicothe</text>
<circle cx="298.5" cy="379.3" r="3.2" fill="#fff"/><circle cx="298.5" cy="379.3" r="1.47" fill="#5a5a5a"/>
<text x="423.0" y="383.4" font-size="13.5" textLength="68.8" lengthAdjust="spacingAndGlyphs" fill="#fff" fill-opacity="0.7" stroke="#fff" stroke-width="2.6" stroke-linejoin="round" stroke-opacity="0.62">Parkersburg</text>
<text x="423.0" y="383.4" font-size="13.5" textLength="68.8" lengthAdjust="spacingAndGlyphs" fill="#757575" stroke="#757575" stroke-width="0.35">Parkersburg</text>
<circle cx="457.7" cy="388.3" r="3.2" fill="#fff"/><circle cx="457.7" cy="388.3" r="1.47" fill="#5a5a5a"/>
<text x="99.0" y="406.7" font-size="15.1" textLength="59.0" lengthAdjust="spacingAndGlyphs" fill="#fff" fill-opacity="0.7" stroke="#fff" stroke-width="2.6" stroke-linejoin="round" stroke-opacity="0.62">Cincinnati</text>
<text x="99.0" y="406.7" font-size="15.1" textLength="59.0" lengthAdjust="spacingAndGlyphs" fill="#757575" stroke="#757575" stroke-width="0.35">Cincinnati</text>
<circle cx="128.7" cy="412.1" r="3.5" fill="#fff"/><circle cx="128.7" cy="412.1" r="1.61" fill="#5a5a5a"/>
<text x="166.5" y="442.3" font-size="13.5" textLength="58.7" lengthAdjust="spacingAndGlyphs" fill="#fff" fill-opacity="0.7" stroke="#fff" stroke-width="2.6" stroke-linejoin="round" stroke-opacity="0.62">Georgetown</text>
<text x="166.5" y="442.3" font-size="13.5" textLength="58.7" lengthAdjust="spacingAndGlyphs" fill="#757575" stroke="#757575" stroke-width="0.35">Georgetown</text>
<circle cx="195.3" cy="446.2" r="3.2" fill="#fff"/><circle cx="195.3" cy="446.2" r="1.47" fill="#5a5a5a"/>
<text x="191.6" y="473.9" font-size="13.5" textLength="44.7" lengthAdjust="spacingAndGlyphs" fill="#fff" fill-opacity="0.7" stroke="#fff" stroke-width="2.6" stroke-linejoin="round" stroke-opacity="0.62">Maysville</text>
<text x="191.6" y="473.9" font-size="13.5" textLength="44.7" lengthAdjust="spacingAndGlyphs" fill="#757575" stroke="#757575" stroke-width="0.35">Maysville</text>
<circle cx="213.6" cy="478.3" r="3.2" fill="#fff"/><circle cx="213.6" cy="478.3" r="1.47" fill="#5a5a5a"/>
<text x="267.6" y="460.9" font-size="13.5" textLength="58.5" lengthAdjust="spacingAndGlyphs" fill="#fff" fill-opacity="0.7" stroke="#fff" stroke-width="2.6" stroke-linejoin="round" stroke-opacity="0.62">Portsmouth</text>
<text x="267.6" y="460.9" font-size="13.5" textLength="58.5" lengthAdjust="spacingAndGlyphs" fill="#757575" stroke="#757575" stroke-width="0.35">Portsmouth</text>
<circle cx="296.5" cy="465.3" r="3.2" fill="#fff"/><circle cx="296.5" cy="465.3" r="1.47" fill="#5a5a5a"/>
<text x="328.8" y="503.3" font-size="13.5" textLength="58.0" lengthAdjust="spacingAndGlyphs" fill="#fff" fill-opacity="0.7" stroke="#fff" stroke-width="2.6" stroke-linejoin="round" stroke-opacity="0.62">Huntington</text>
<text x="328.8" y="503.3" font-size="13.5" textLength="58.0" lengthAdjust="spacingAndGlyphs" fill="#757575" stroke="#757575" stroke-width="0.35">Huntington</text>
<text transform="translate(307.3,228.0) scale(0.770,1)" x="0" y="0" font-size="17" font-weight="bold" textLength="55.8" lengthAdjust="spacing" fill="#fff" fill-opacity="0.7" stroke="#fff" stroke-width="2.8" stroke-linejoin="round" stroke-opacity="0.7">OHIO</text>
<text transform="translate(307.3,228.0) scale(0.770,1)" x="0" y="0" font-size="17" font-weight="bold" textLength="55.8" lengthAdjust="spacing" fill="#4a4a4a" stroke="#4a4a4a" stroke-width="0.5">OHIO</text>
<text transform="translate(529.9,459.7) scale(1.050,1)" x="0" y="0" font-size="12" font-weight="bold" textLength="38.6" lengthAdjust="spacing" fill="#fff" fill-opacity="0.7" stroke="#fff" stroke-width="2.8" stroke-linejoin="round" stroke-opacity="0.7">WEST</text>
<text transform="translate(529.9,459.7) scale(1.050,1)" x="0" y="0" font-size="12" font-weight="bold" textLength="38.6" lengthAdjust="spacing" fill="#5a5a5a" stroke="#5a5a5a" stroke-width="0.25">WEST</text>
<text transform="translate(516.3,475.8) scale(1.050,1)" x="0" y="0" font-size="12" font-weight="bold" textLength="64.5" lengthAdjust="spacing" fill="#fff" fill-opacity="0.7" stroke="#fff" stroke-width="2.8" stroke-linejoin="round" stroke-opacity="0.7">VIRGINIA</text>
<text transform="translate(516.3,475.8) scale(1.050,1)" x="0" y="0" font-size="12" font-weight="bold" textLength="64.5" lengthAdjust="spacing" fill="#5a5a5a" stroke="#5a5a5a" stroke-width="0.25">VIRGINIA</text>
<text x="650.5" y="213.0" font-size="14" textLength="14.0" lengthAdjust="spacingAndGlyphs" fill="#fff" fill-opacity="0.7" stroke="#fff" stroke-width="2.6" stroke-linejoin="round" stroke-opacity="0.62">gh</text>
<text x="650.5" y="213.0" font-size="14" textLength="14.0" lengthAdjust="spacingAndGlyphs" fill="#757575" stroke="#757575" stroke-width="0.35">gh</text>
</g>
</svg>
<div class="ctrl">
<div class="b1"><svg width="30" height="30" viewBox="0 0 30 30"><path d="M15.1 10.4v9.4M10.4 15.1h9.4" stroke="#333" stroke-width="3" stroke-linecap="round" fill="none"/></svg></div>
<div class="b2"><svg width="30" height="30" viewBox="0 0 30 30"><path d="M10.4 15.2h9.4" stroke="#333" stroke-width="3" stroke-linecap="round" fill="none"/></svg></div>
<div class="b3"><svg width="30" height="30" viewBox="0 0 30 30"><path d="M15.1 7.6l4.4 8.1h-8.8z" fill="#333"/><path d="M15.1 24.5l4.4-8.2h-8.8z" fill="#ccc"/></svg></div>
</div>
<div class="legend"><div class="lt">% of people<br>fully vaccinated</div><div class="li" style="top:45px"><span class="dot" style="background:#0c1b46"></span><span class="tx">More than 41.43%</span></div><div class="li" style="top:65px"><span class="dot" style="background:#10286e"></span><span class="tx">36.10% - 41.42%</span></div><div class="li" style="top:85px"><span class="dot" style="background:#0c2d9c"></span><span class="tx">32.20% - 36.09%</span></div><div class="li" style="top:105px"><span class="dot" style="background:#1a5fd0"></span><span class="tx">28.98% - 32.19%</span></div><div class="li" style="top:125px"><span class="dot" style="background:#0d8ff5"></span><span class="tx">25.83% - 28.97%</span></div><div class="li" style="top:145px"><span class="dot" style="background:#86bff8"></span><span class="tx">21.76% - 25.82%</span></div><div class="li" style="top:165px"><span class="dot" style="background:#bfe0fb"></span><span class="tx">Less than 21.75%</span></div><div class="li" style="top:185px"><span class="dot" style="background:#ffffff"></span><span class="tx">Not Available</span></div></div>
<div class="info"><svg width="24" height="24" viewBox="0 0 24 24"><circle cx="12" cy="12" r="7" fill="#333"/><rect x="11" y="10.6" width="2" height="6.2" fill="#a9b5df"/><circle cx="12" cy="8.2" r="1.25" fill="#a9b5df"/></svg></div>
<svg class="logo" width="92" height="26" viewBox="0 0 92 26" style="position:absolute;left:8px;top:470px;opacity:0.999;will-change:transform">
<circle cx="9.3" cy="12.4" r="8.7" fill="#fff" stroke="#2e3c6e" stroke-opacity="0.45" stroke-width="1.2"/>
<path d="M10.5 5.7a5.8 5.8 0 1 1 -3.5 10.4 L4.2 18 L5.6 13.6 A5.8 5.8 0 0 1 10.5 5.7z" fill="#3c4f8c"/>
<path d="M10.5 7.9l1.05 2.35 2.35 1.05-2.35 1.05-1.05 2.35-1.05-2.35-2.35-1.05 2.35-1.05z" fill="#fff"/>
<text x="22.1" y="17.2" font-family="Liberation Sans, sans-serif" font-size="14.8" textLength="59" lengthAdjust="spacingAndGlyphs" fill="none" stroke="#2e3c6e" stroke-opacity="0.4" stroke-width="2.2" stroke-linejoin="round">mapbox</text>
<text x="22.1" y="17.2" font-family="Liberation Sans, sans-serif" font-size="14.8" textLength="59" lengthAdjust="spacingAndGlyphs" fill="#fff" stroke="#fff" stroke-width="0.7">mapbox</text>
</svg>
</div>
</body></html>
